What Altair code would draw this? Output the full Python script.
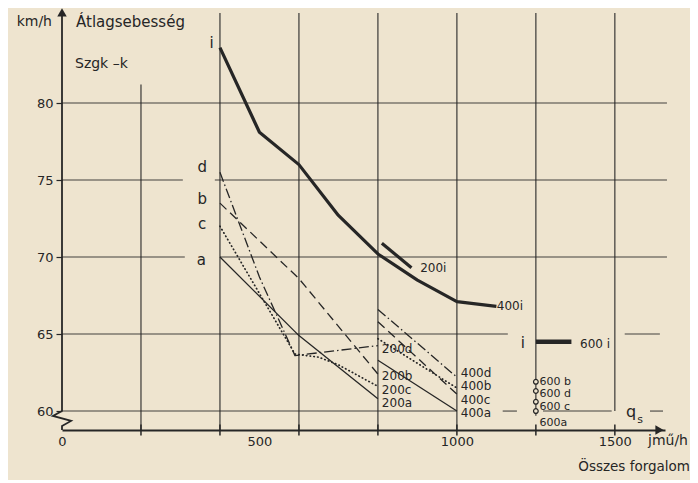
import altair as alt
import pandas as pd

INK = "#262626"
PAPER = "#eee4cf"
FONT = "DejaVu Sans"

X_MAX = 1527
Y_MIN, Y_MAX = 58.77, 86.04

# ---- data (x: jmű/h, y: km/h) ----
i_x = [400, 500, 600, 700, 800, 900, 1000, 1100]
i_y = [83.6, 78.1, 76.0, 72.7, 70.2, 68.5, 67.1, 66.8]
i200_x = [810, 885]
i200_y = [70.9, 69.3]
i600_x = [1200, 1290]
i600_y = [64.5, 64.5]

a_x = [400, 600, 800]
a_y = [70.0, 64.9, 60.8]
b_x = [400, 600, 800]
b_y = [73.5, 68.6, 62.4]
c_x = [400, 590, 650, 700, 800]
c_y = [72.0, 63.7, 63.5, 63.0, 61.6]
d_x = [400, 500, 590, 800]
d_y = [75.5, 68.7, 63.6, 64.25]

a400_x = [800, 1000]
a400_y = [63.3, 60.0]
b400_x = [800, 1000]
b400_y = [65.8, 61.1]
c400_x = [800, 1000]
c400_y = [64.7, 61.5]
d400_x = [800, 1000]
d400_y = [66.6, 62.2]

p600_names = ["600 b", "600 d", "600 c", "600 a"]
p600_x = [1200, 1200, 1200, 1200]
p600_y = [61.9, 61.3, 60.6, 60.0]

# grid
vgrid_x = [200, 400, 600, 800, 1000, 1200, 1400]
vgrid_top = [81.2, 85.85, 85.85, 85.85, 85.85, 85.85, 85.85]
vgrid_bottom = [Y_MIN, Y_MIN, Y_MIN, Y_MIN, Y_MIN, 59.7, 60.0]
hgrid_y = [80, 75, 75, 70, 70, 65, 65, 60, 60, 60, 60]
hgrid_x1 = [0, 0, 387, 0, 400, 0, 1425, 0, 1116, 1218, 1489]
hgrid_x2 = [1532, 306, 1532, 311, 1532, 1129, 1514, 1000, 1152, 1392, 1522]
xtick_values = [200, 400, 600, 800, 1000, 1200, 1400]
ytick_values = [60, 65, 70, 75, 80]
xlabel_values = [0, 500, 1000, 1400]

# broken-axis zigzag
brk_x = [0, -23, 23, 0, 0]
brk_y = [60.0, 59.68, 59.36, 59.03, Y_MIN]

# curve labels
big_text = ["i", "d", "b", "c", "a", "i"]
big_x = [379, 355, 355, 355, 353, 1167]
big_y = [83.9, 75.85, 73.76, 72.14, 69.8, 64.42]
small_text = ["200i", "400i", "200d", "200b", "200c", "200a",
              "400d", "400b", "400c", "400a", "600 i"]
small_x = [907, 1101, 810, 810, 810, 810,
           1010, 1010, 1010, 1010, 1312]
small_y = [69.29, 66.82, 64.03, 62.26, 61.38, 60.5,
           62.47, 61.62, 60.75, 59.87, 64.35]
p600_lab_x = [1209, 1209, 1209, 1209]
p600_lab_y = [61.88, 61.1, 60.26, 59.22]
p600_lab_text = ["600 b", "600 d", "600 c", "600a"]

# ---- scales / axes ----
xs = alt.Scale(domain=[0, X_MAX], nice=False, zero=False)
ys = alt.Scale(domain=[Y_MIN, Y_MAX], nice=False, zero=False)
x_axis = alt.Axis(values=xlabel_values,
                  labelExpr="datum.value == 1400 ? '1500' : format(datum.value, 'd')",
                  ticks=False, grid=False, domain=True, domainColor=INK, domainWidth=2,
                  labelFontSize=13, labelColor=INK, labelFont=FONT, labelPadding=5,
                  labelFlush=False, title=None)
y_axis = alt.Axis(values=ytick_values, ticks=True, tickSize=6, tickWidth=1.2, tickColor=INK,
                  grid=False, domain=False, labelFontSize=13, labelColor=INK, labelFont=FONT,
                  labelPadding=3, title=None)


def X(f):
    return alt.X(f, type="quantitative", scale=xs, axis=x_axis)


def Y(f):
    return alt.Y(f, type="quantitative", scale=ys, axis=y_axis)


def series_df(name, xv, yv):
    return pd.DataFrame({"s": name, "x": xv, "y": yv, "o": list(range(len(xv)))})


def line_layer(frames, width, dash=None, cap="butt"):
    df = pd.concat(frames, ignore_index=True)
    kw = dict(color=INK, strokeWidth=width, strokeCap=cap, strokeJoin="round", clip=False)
    if dash:
        kw["strokeDash"] = dash
    return alt.Chart(df).mark_line(**kw).encode(
        x=X("x"), y=Y("y"), detail="s:N", order="o:Q")


def text_layer(texts, xv, yv, size, align="left"):
    df = pd.DataFrame({"t": texts, "x": xv, "y": yv})
    return alt.Chart(df).mark_text(font=FONT, fontSize=size, color=INK, align=align,
                                   baseline="middle").encode(x=X("x"), y=Y("y"), text="t:N")


layers = []

# grid
hdf = pd.DataFrame({"x1": hgrid_x1, "x2": hgrid_x2, "y": hgrid_y})
layers.append(alt.Chart(hdf).mark_rule(color=INK, strokeWidth=1.1, opacity=0.85).encode(
    x=X("x1"), x2="x2", y=Y("y")))
vdf = pd.DataFrame({"x": vgrid_x, "y1": vgrid_bottom, "y2": vgrid_top})
layers.append(alt.Chart(vdf).mark_rule(color=INK, strokeWidth=1.2, opacity=0.9).encode(
    x=X("x"), y=Y("y1"), y2="y2"))

# y axis line with break and arrows
ydf = pd.DataFrame({"x": [0], "y1": [60.0], "y2": [Y_MAX - 0.3]})
layers.append(alt.Chart(ydf).mark_rule(color=INK, strokeWidth=1.8).encode(
    x=X("x"), y=Y("y1"), y2="y2"))
bdf = pd.DataFrame({"x": brk_x, "y": brk_y, "o": list(range(len(brk_x)))})
layers.append(alt.Chart(bdf).mark_line(color=INK, strokeWidth=1.8, clip=False).encode(
    x=X("x"), y=Y("y"), order="o:Q"))
adf_up = pd.DataFrame({"x": [0], "y": [Y_MAX - 0.15]})
layers.append(alt.Chart(adf_up).mark_point(shape="triangle-up", filled=True, size=90,
                                           color=INK, opacity=1).encode(x=X("x"), y=Y("y")))
adf_right = pd.DataFrame({"x": [X_MAX - 14], "y": [Y_MIN]})
layers.append(alt.Chart(adf_right).mark_point(shape="triangle-right", filled=True, size=90,
                                              color=INK, opacity=1).encode(x=X("x"), y=Y("y")))
tdf = pd.DataFrame({"x": xtick_values, "y": [Y_MIN] * len(xtick_values)})
layers.append(alt.Chart(tdf).mark_tick(orient="vertical", size=11, thickness=1.5,
                                       color=INK, opacity=1).encode(x=X("x"), y=Y("y")))

# curves
layers.append(line_layer([series_df("i", i_x, i_y), series_df("200i", i200_x, i200_y)], 3.2))
layers.append(line_layer([series_df("600i", i600_x, i600_y)], 4.5))
layers.append(line_layer([series_df("a", a_x, a_y), series_df("400a", a400_x, a400_y)], 1.3))
layers.append(line_layer([series_df("b", b_x, b_y), series_df("400b", b400_x, b400_y)], 1.3, [9, 5]))
layers.append(line_layer([series_df("c", c_x, c_y), series_df("400c", c400_x, c400_y)], 1.7,
                         [0.5, 3.3], cap="round"))
layers.append(line_layer([series_df("d", d_x, d_y), series_df("400d", d400_x, d400_y)], 1.3,
                         [10, 3, 1.5, 3]))

pdf = pd.DataFrame({"s": p600_names, "x": p600_x, "y": p600_y})
layers.append(alt.Chart(pdf).mark_point(shape="circle", size=22, filled=True, fill=PAPER,
                                        stroke=INK, strokeWidth=1.2, opacity=1).encode(
    x=X("x"), y=Y("y")))

# labels
layers.append(text_layer(big_text, big_x, big_y, 15, "center"))
layers.append(text_layer(small_text, small_x, small_y, 12))
layers.append(text_layer(p600_lab_text, p600_lab_x, p600_lab_y, 11))
layers.append(text_layer(["q"], [1428], [59.95], 16))
layers.append(text_layer(["s"], [1457], [59.45], 11))

# titles (pixel positions relative to the plot area)
px_left = pd.DataFrame({"t": ["Átlagsebesség", "Szgk –k", "jmű/h"],
                        "px": [14, 13, 586], "py": [12, 54, 431], "fs": [15, 14, 14]})
layers.append(alt.Chart(px_left).mark_text(font=FONT, color=INK, align="left",
                                           baseline="middle").encode(
    x=alt.X("px:Q", scale=None), y=alt.Y("py:Q", scale=None), text="t:N",
    size=alt.Size("fs:Q", scale=None, legend=None)))
px_right = pd.DataFrame({"t": ["km/h", "Összes forgalom"],
                         "px": [-10, 628], "py": [12, 457], "fs": [14, 13.5]})
layers.append(alt.Chart(px_right).mark_text(font=FONT, color=INK, align="right",
                                            baseline="middle").encode(
    x=alt.X("px:Q", scale=None), y=alt.Y("py:Q", scale=None), text="t:N",
    size=alt.Size("fs:Q", scale=None, legend=None)))

chart = alt.layer(*layers).properties(
    width=603, height=420,
    background=PAPER,
    padding={"left": 54, "top": 2, "right": 25, "bottom": 50},
    autosize=alt.AutoSizeParams(type="none"),
).configure_view(stroke=None)

chart.save("out.html", embed_options={"renderer": "svg", "actions": False})
